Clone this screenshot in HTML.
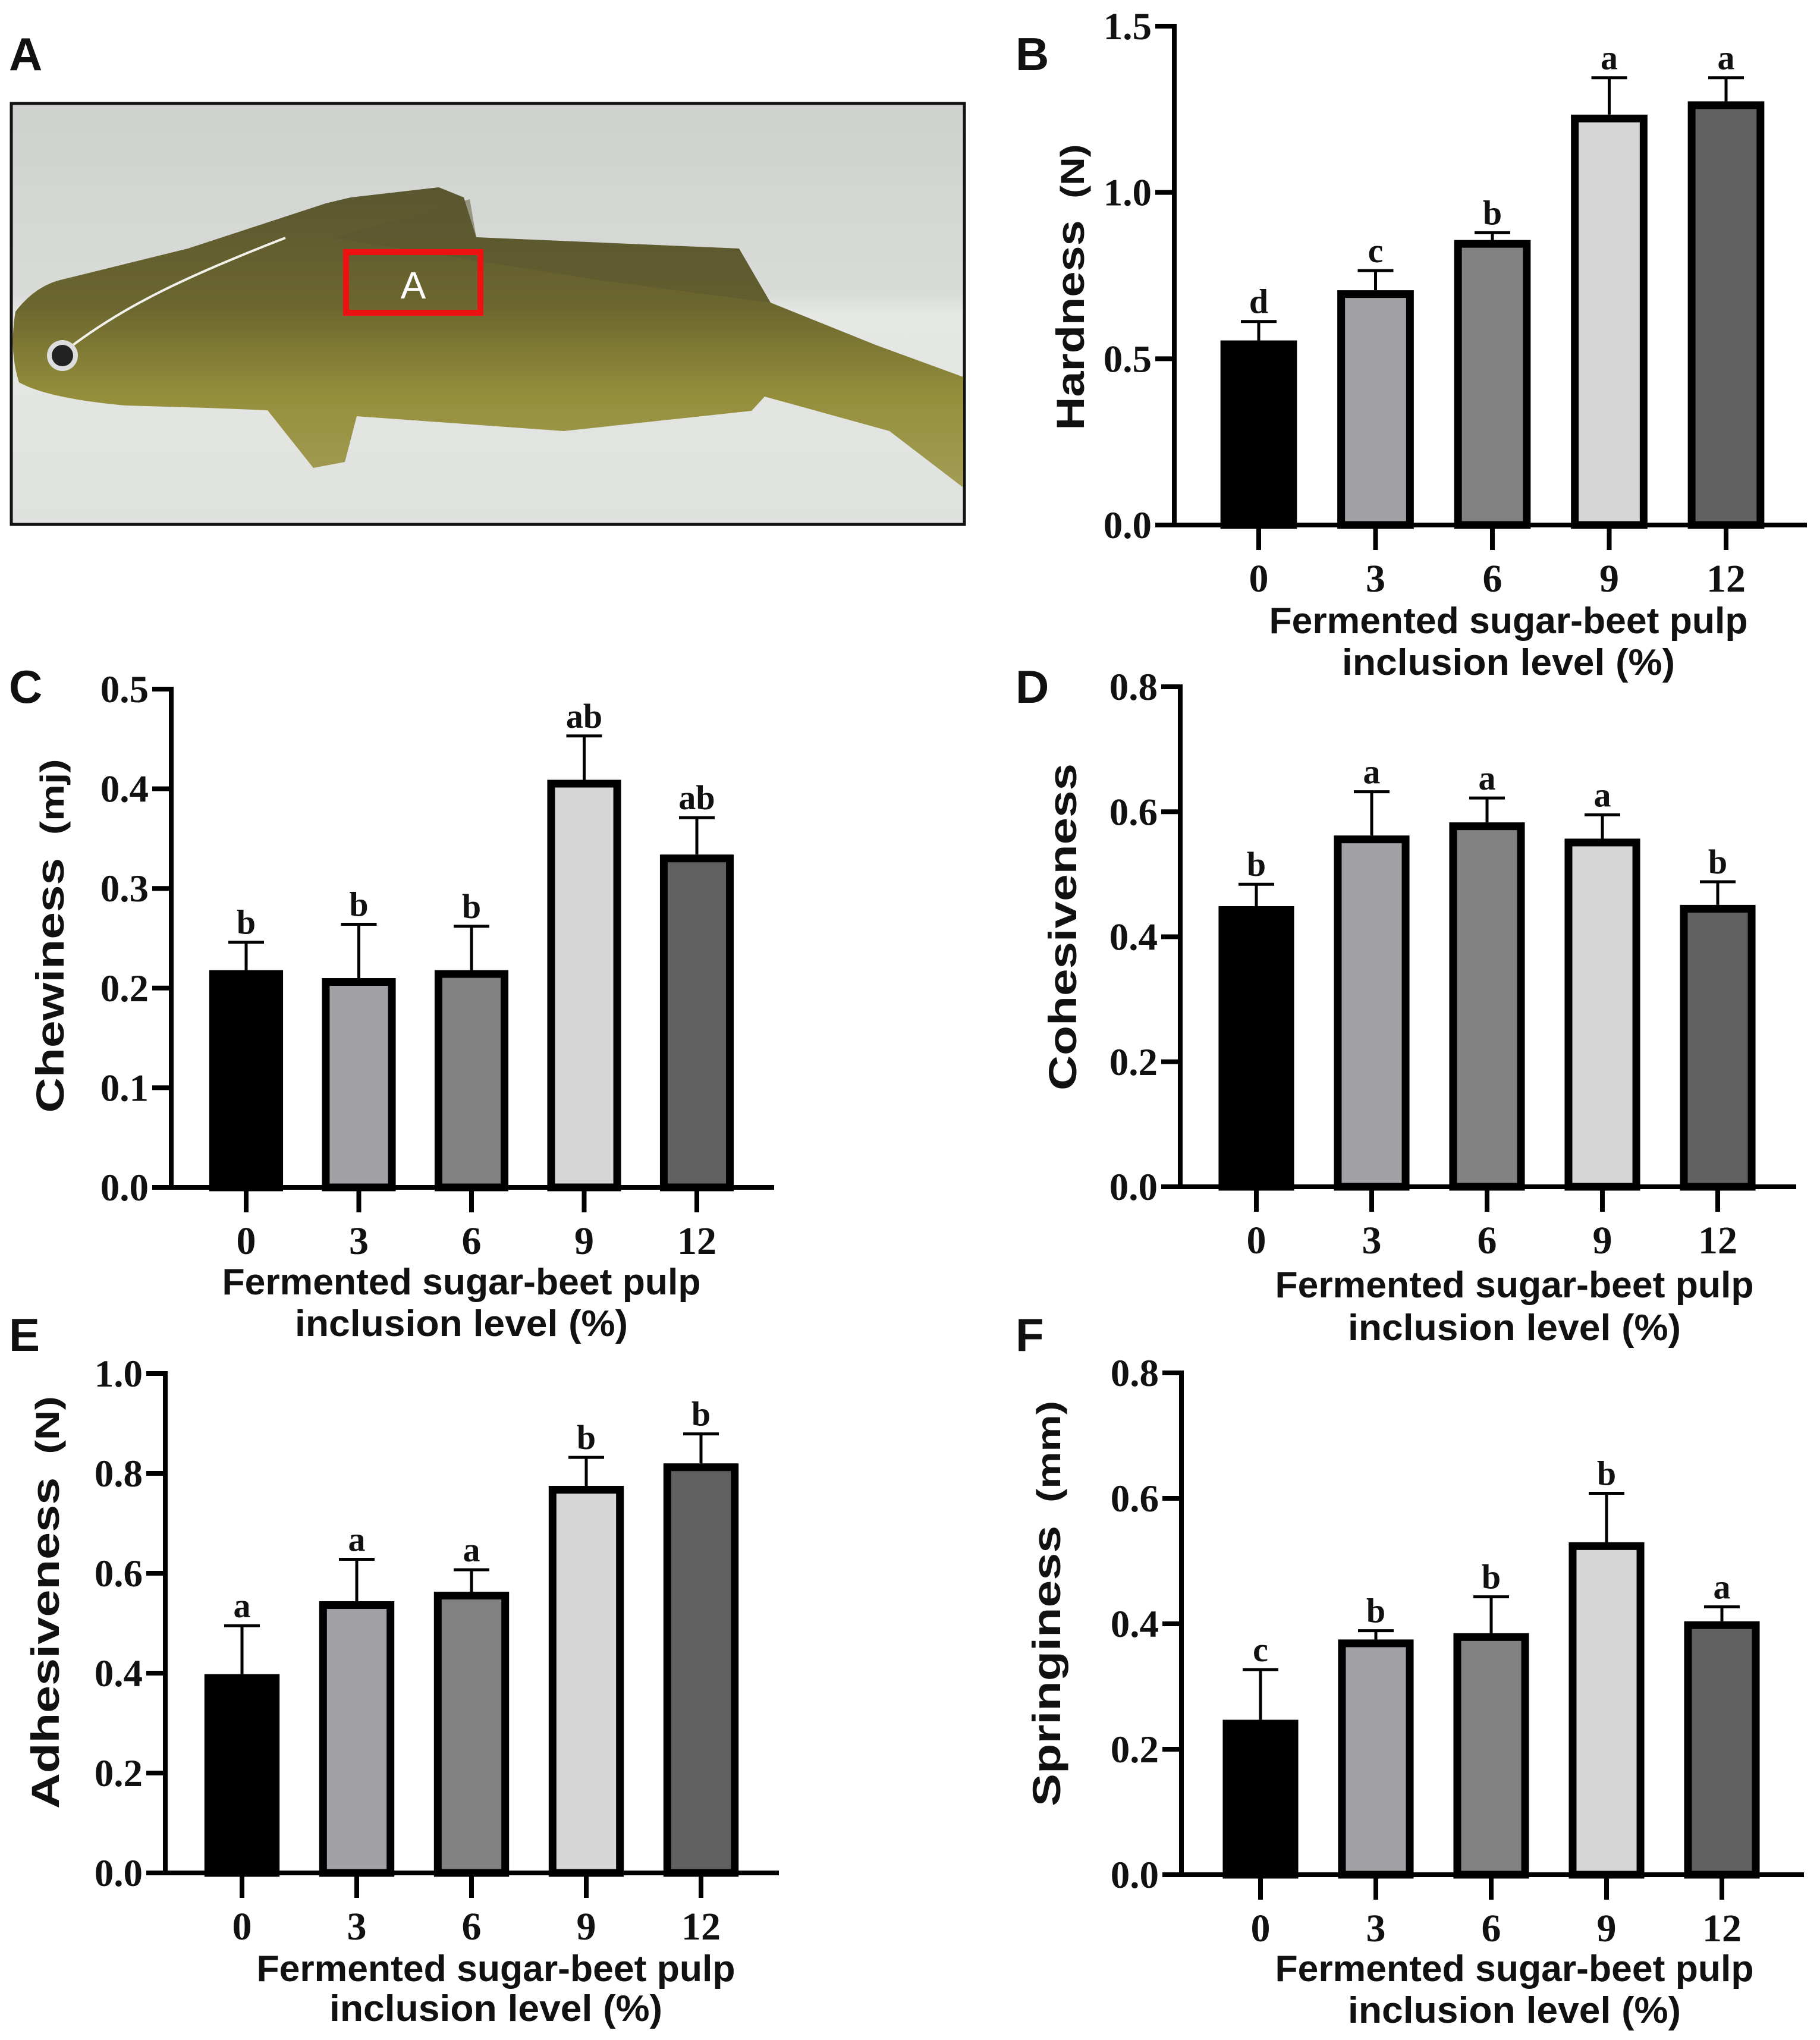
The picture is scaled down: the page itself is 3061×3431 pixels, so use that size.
<!DOCTYPE html>
<html><head><meta charset="utf-8"><style>
html,body{margin:0;padding:0;background:#fff;}
svg{display:block;}
</style></head><body>
<svg id="fig" xmlns="http://www.w3.org/2000/svg" width="3061" height="3431" viewBox="0 0 3061 3431">
<rect x="0" y="0" width="3061" height="3431" fill="#fff"/>
<g>
  <defs>
    <linearGradient id="bg" x1="0" y1="0" x2="0" y2="1">
      <stop offset="0" stop-color="#cfd1cf"/><stop offset="0.45" stop-color="#d9dbd9"/><stop offset="0.5" stop-color="#e6e8e6"/><stop offset="1" stop-color="#dfe1df"/>
    </linearGradient>
    <linearGradient id="fishg" x1="0" y1="0" x2="0" y2="1">
      <stop offset="0" stop-color="#5a5630"/><stop offset="0.4" stop-color="#6c672f"/><stop offset="0.7" stop-color="#958f3c"/><stop offset="1" stop-color="#a29c55"/>
    </linearGradient>
  </defs>
  <rect x="19" y="174" width="1603" height="708" fill="url(#bg)" stroke="#111" stroke-width="5"/>
  <path d="M26,524 Q60,480 105,470 L316,418 L548,342 L590,332 L738,315 L780,332 L801,399 L1243,418 L1296,509 L1475,581 L1620,634 L1620,820 L1496,725 L1286,667 L1264,691 L948,725 L600,700 L580,777 L527,787 L450,690 L348,686 L211,682 Q80,670 32,643 Q15,590 26,524 Z" fill="url(#fishg)"/>
  <path d="M560,400 L790,335 L801,399 L1243,418 L1296,509 L1000,470 Z" fill="#5a5630" opacity="0.5"/>
  <path d="M110,590 C200,520 300,470 480,400" stroke="#f2f2ea" stroke-width="4" fill="none"/>
  <circle cx="105" cy="598" r="26" fill="#ddd" /><circle cx="105" cy="598" r="18" fill="#222"/>
  <rect x="582" y="424" width="226" height="102" fill="none" stroke="#ee1111" stroke-width="10"/>
  <text x="695" y="502" font-family="Liberation Sans, sans-serif" font-size="64" fill="#fff" text-anchor="middle">A</text>
</g>
<g id="letters" font-family="Liberation Sans, sans-serif" font-weight="bold" font-size="78" fill="#111">
  <text x="15" y="118">A</text>
  <text x="1708" y="118">B</text>
  <text x="15" y="1182">C</text>
  <text x="1708" y="1182">D</text>
  <text x="15" y="2272">E</text>
  <text x="1708" y="2272">F</text>
</g>
</svg>
<script>
const categories = ["0","3","6","9","12"];
const barColors = ["#000000","#a2a2a6","#818181","#d6d6d6","#606060"];
// Panel B hardness
const hardnessValues = [0.555,0.706,0.857,1.234,1.274];
const hardnessErrors = [0.057,0.059,0.022,0.111,0.071];
const hardnessLetters = ["d","c","b","a","a"];
const hardnessTicks = [0,0.5,1.0,1.5];
// Panel C chewiness
const chewValues = [0.218,0.210,0.218,0.409,0.334];
const chewErrors = [0.028,0.054,0.044,0.044,0.037];
const chewLetters = ["b","b","b","ab","ab"];
const chewTicks = [0,0.1,0.2,0.3,0.4,0.5];
// Panel D cohesiveness
const cohValues = [0.449,0.562,0.583,0.557,0.451];
const cohErrors = [0.035,0.070,0.039,0.038,0.037];
const cohLetters = ["b","a","a","a","b"];
const cohTicks = [0,0.2,0.4,0.6,0.8];
// Panel E adhesiveness
const adhValues = [0.398,0.544,0.563,0.775,0.820];
const adhErrors = [0.097,0.084,0.044,0.057,0.059];
const adhLetters = ["a","a","a","b","b"];
const adhTicks = [0,0.2,0.4,0.6,0.8,1.0];
// Panel F springiness
const sprValues = [0.247,0.375,0.385,0.530,0.404];
const sprErrors = [0.080,0.014,0.058,0.078,0.023];
const sprLetters = ["c","b","b","b","a"];
const sprTicks = [0,0.2,0.4,0.6,0.8];

const NS = "http://www.w3.org/2000/svg";
const svg = document.getElementById("fig");
function mk(tag, attrs, parent){
  const e = document.createElementNS(NS, tag);
  for (const k in attrs) e.setAttribute(k, attrs[k]);
  parent.appendChild(e);
  return e;
}
function panel(p){
  const g = mk("g", {}, svg);
  
  
  const yScale = v => p.y0 - (v / p.max) * (p.y0 - p.ytop);
  const xScale = i => p.c0 + i * p.sp;
  const bw = p.sp * 0.655, sw = 13;
  p.values.forEach((v, i) => {
    const cx = xScale(i), yt = yScale(v), ye = yScale(v + p.errors[i]);
    const ln = mk("line", {x1:cx, x2:cx, y1:yt, y2:ye, stroke:"#000", "stroke-width":5}, g);
    
    
    mk("line", {x1:cx-30, x2:cx+30, y1:ye, y2:ye, stroke:"#000", "stroke-width":5}, g);
    const r = mk("rect", {x:cx-bw/2+sw/2, y:yt+sw/2, width:bw-sw, height:Math.max(0,p.y0-yt-sw/2), fill:barColors[i], stroke:"#000", "stroke-width":sw}, g);
    
    
    const t = mk("text", {x:cx, y:ye-14, "text-anchor":"middle", "font-family":"Liberation Serif, serif", "font-weight":"bold", "font-size":58, fill:"#111"}, g);
    t.textContent = p.letters[i];
    
    
    mk("line", {x1:cx, x2:cx, y1:p.y0, y2:p.y0+42, stroke:"#000", "stroke-width":8}, g);
    const xl = mk("text", {x:cx, y:p.y0+112, "text-anchor":"middle", "font-family":"Liberation Serif, serif", "font-weight":"bold", "font-size":66, fill:"#111"}, g);
    xl.textContent = categories[i];
    
    
  });
  const ya = mk("line", {x1:p.ax, x2:p.ax, y1:p.ytop-4, y2:p.y0+4, stroke:"#000", "stroke-width":8}, g);
  
  
  const xa = mk("line", {x1:p.ax-32, x2:p.xend, y1:p.y0, y2:p.y0, stroke:"#000", "stroke-width":8}, g);
  
  
  p.ticks.forEach(v => {
    const y = yScale(v);
    mk("line", {x1:p.ax-32, x2:p.ax, y1:y, y2:y, stroke:"#000", "stroke-width":8}, g);
    const t = mk("text", {x:p.ax-38, y:y+22, "text-anchor":"end", "font-family":"Liberation Serif, serif", "font-weight":"bold", "font-size":65, fill:"#111"}, g);
    t.textContent = v.toFixed(1);
    
    
  });
  const yt = mk("text", {transform:"translate(" + p.tx + "," + p.ty + ") rotate(-90)", "text-anchor":"middle", "font-family":"Liberation Sans, sans-serif", "font-size":66, fill:"#111", textLength:p.tl, lengthAdjust:"spacingAndGlyphs", y:23}, g);
  
  
  const a = mk("tspan", {"font-weight":"bold"}, yt); a.textContent = p.title;
  if (p.unit) { const b = mk("tspan", {"font-size":56, "font-weight":"bold"}, yt); b.textContent = "\u00a0\u00a0(" + p.unit + ")"; }
  const x1 = mk("text", {x:p.xc, y:p.xl1, "text-anchor":"middle", "font-family":"Liberation Sans, sans-serif", "font-weight":"bold", "font-size":62, fill:"#111", textLength:805, lengthAdjust:"spacingAndGlyphs"}, g);
  x1.textContent = "Fermented sugar-beet pulp";
  
  
  const x2 = mk("text", {x:p.xc, y:p.xl2, "text-anchor":"middle", "font-family":"Liberation Sans, sans-serif", "font-weight":"bold", "font-size":62, fill:"#111", textLength:560, lengthAdjust:"spacingAndGlyphs"}, g);
  x2.textContent = "inclusion level (%)";
  
  
}
panel({name:"hardness-chart", values:hardnessValues, errors:hardnessErrors, letters:hardnessLetters, ticks:hardnessTicks, max:1.5,
  ax:1975, y0:883, ytop:44, c0:2117, sp:196.5, xend:3039, title:"Hardness", unit:"N", tx:1800, ty:483, tl:481, xc:2537, xl1:1065, xl2:1135});
panel({name:"chewiness-chart", values:chewValues, errors:chewErrors, letters:chewLetters, ticks:chewTicks, max:0.5,
  ax:288, y0:1997, ytop:1159, c0:414, sp:189.5, xend:1302, title:"Chewiness", unit:"mj", tx:84, ty:1574, tl:595, xc:776, xl1:2177, xl2:2247});
panel({name:"cohesiveness-chart", values:cohValues, errors:cohErrors, letters:cohLetters, ticks:cohTicks, max:0.8,
  ax:1985, y0:1996, ytop:1155, c0:2113, sp:194, xend:3021, title:"Cohesiveness", unit:"", tx:1787, ty:1559, tl:550, xc:2547, xl1:2182, xl2:2254});
panel({name:"adhesiveness-chart", values:adhValues, errors:adhErrors, letters:adhLetters, ticks:adhTicks, max:1.0,
  ax:278, y0:3150, ytop:2310, c0:407, sp:193, xend:1310, title:"Adhesiveness", unit:"N", tx:76, ty:2695, tl:694, xc:834, xl1:3332, xl2:3399});
panel({name:"springiness-chart", values:sprValues, errors:sprErrors, letters:sprLetters, ticks:sprTicks, max:0.8,
  ax:1987, y0:3153, ytop:2309, c0:2120, sp:194, xend:3034, title:"Springiness", unit:"mm", tx:1760, ty:2697, tl:682, xc:2547, xl1:3332, xl2:3402});
</script>
</body></html>
